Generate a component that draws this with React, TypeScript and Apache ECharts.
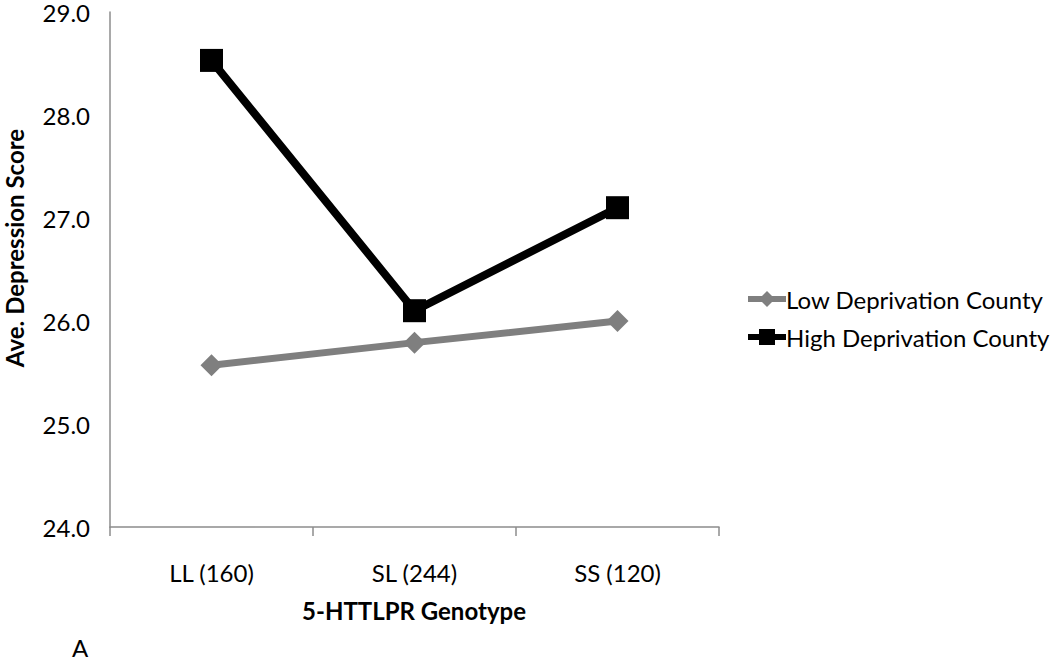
import React, { useEffect, useRef } from "react";
import * as echarts from "echarts";

const categories = ["LL (160)", "SL (244)", "SS (120)"];
const lowDeprivation = [25.57, 25.79, 26.0];
const highDeprivation = [28.53, 26.1, 27.1];
const yTicks = { min: 24, max: 29, interval: 1 };

const FONT = "Lato, 'Open Sans', sans-serif";

export default function App() {
  const ref = useRef<HTMLDivElement>(null);
  useEffect(() => {
    if (!ref.current) return;
    const chart = echarts.init(ref.current, undefined, { renderer: "svg" });
    chart.setOption({
      animation: false,
      backgroundColor: "#ffffff",
      textStyle: { fontFamily: FONT },
      grid: { left: 110, right: 331, top: 12, bottom: 133 },
      legend: {
        orient: "vertical",
        left: 740,
        top: 282,
        itemGap: 14,
        itemWidth: 38,
        itemHeight: 20,
        lineStyle: { width: 6 },
        textStyle: { fontFamily: FONT, fontSize: 24, color: "#000", padding: [0, 0, 0, -5] },
        data: ["Low Deprivation County", "High Deprivation County"],
      },
      xAxis: {
        type: "category",
        data: categories,
        boundaryGap: true,
        axisLine: { lineStyle: { color: "#8c8c8c", width: 1.5 } },
        axisTick: { show: true, length: 9, lineStyle: { color: "#8c8c8c", width: 1.5 } },
        axisLabel: { fontFamily: FONT, fontSize: 24, color: "#000", margin: 33 },
      },
      yAxis: {
        type: "value",
        min: yTicks.min,
        max: yTicks.max,
        interval: yTicks.interval,
        axisLine: { show: true, lineStyle: { color: "#8c8c8c", width: 1.5 } },
        axisTick: { show: false },
        splitLine: { show: false },
        axisLabel: {
          fontFamily: FONT,
          fontSize: 24,
          color: "#000",
          margin: 20,
          formatter: (v: number) => v.toFixed(1),
        },
      },
      graphic: [
        {
          type: "text",
          x: 14,
          y: 248,
          rotation: Math.PI / 2,
          style: {
            text: "Ave. Depression Score",
            font: `bold 24px ${FONT}`,
            fill: "#000",
            align: "center",
            verticalAlign: "middle",
          },
        },
        {
          type: "text",
          x: 414,
          y: 610,
          style: {
            text: "5-HTTLPR Genotype",
            font: `bold 24px ${FONT}`,
            fill: "#000",
            align: "center",
            verticalAlign: "middle",
          },
        },
        {
          type: "text",
          x: 80,
          y: 647,
          style: {
            text: "A",
            font: `24px ${FONT}`,
            fill: "#000",
            align: "center",
            verticalAlign: "middle",
          },
        },
      ],
      series: [
        {
          name: "Low Deprivation County",
          type: "line",
          data: lowDeprivation,
          symbol: "diamond",
          symbolSize: 22,
          lineStyle: { color: "#7f7f7f", width: 7 },
          itemStyle: { color: "#7f7f7f" },
        },
        {
          name: "High Deprivation County",
          type: "line",
          data: highDeprivation,
          symbol: "rect",
          symbolSize: 23,
          lineStyle: { color: "#000000", width: 8 },
          itemStyle: { color: "#000000" },
        },
      ],
    });
    return () => chart.dispose();
  }, []);
  return (
    <div
      ref={ref}
      style={{ position: "absolute", left: 0, top: 0, width: 1050, height: 660 }}
    />
  );
}
